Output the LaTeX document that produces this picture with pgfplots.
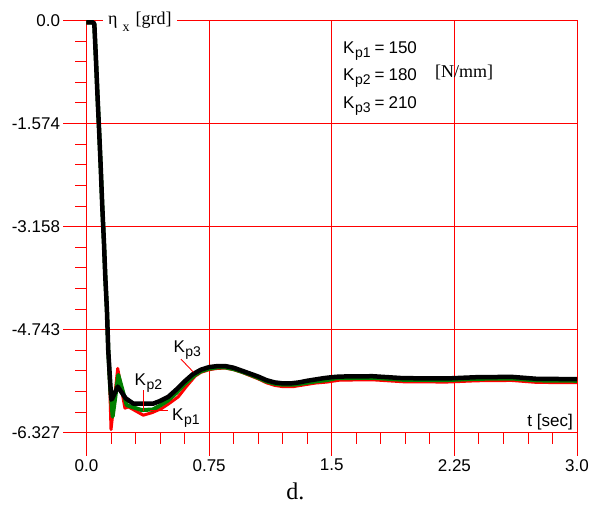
\documentclass[border=0pt]{standalone}
\usepackage{fontspec}
\setmainfont{Liberation Sans}
\newfontfamily\seriffont{Liberation Serif}
\usepackage{pgfplots}
\pgfplotsset{compat=1.18}
\definecolor{kgreen}{RGB}{0,128,0}
\newcommand{\Kp}[1]{K\kern0.5pt\raisebox{-4pt}{\fontsize{14}{14}\selectfont p#1}}
\begin{document}
\begin{tikzpicture}
\useasboundingbox (-86.5pt,-71.3pt) rectangle (508.5pt,432.7pt);
\begin{axis}[
  at={(0pt,0pt)}, anchor=south west,
  scale only axis, width=490.5pt, height=412.2pt,
  xmin=0, xmax=3, ymin=-6.327, ymax=0,
  clip=false,
  axis line style={red, line width=0.9pt},
  xtick={0,0.75,1.5,2.25,3}, xticklabels={0.0,0.75,1.5,2.25,3.0},
  ytick={-6.327,-4.74525,-3.1635,-1.58175,0},
  yticklabels={-6.327,-4.743,-3.158,-1.574,0.0},
  minor x tick num=4, minor y tick num=4,
  tick pos=left,
  grid=major, major grid style={red, line width=0.9pt},
  tick style={red, line width=0.9pt},
  tick align=outside,
  major tick length=23pt, minor tick length=11pt,
  /pgf/number format/assume math mode=true,
  tick label style={font=\fontsize{17}{17}\selectfont, text=black},
]
\addplot[red, line width=3pt, line join=round] coordinates {
(0,-0.03) (0.042,-0.03) (0.048,-0.06) (0.058,-0.607) (0.0685,-1.221) (0.078,-1.732)
(0.0869,-2.245) (0.0966,-2.860) (0.107,-3.422) (0.115,-3.934) (0.125,-4.446) (0.133,-5.06)
(0.142,-5.6) (0.150,-6.28) (0.191,-5.34) (0.235,-5.95) (0.256,-5.93) (0.347,-6.058)
(0.40,-6.02) (0.46,-5.955) (0.51,-5.87) (0.561,-5.777) (0.61,-5.62) (0.664,-5.46)
(0.70,-5.40) (0.75,-5.36) (0.80,-5.34) (0.85,-5.335) (0.90,-5.36) (0.95,-5.40)
(1.00,-5.45) (1.05,-5.50) (1.10,-5.56) (1.15,-5.60) (1.20,-5.62) (1.265,-5.62)
(1.30,-5.605) (1.35,-5.585) (1.40,-5.565) (1.469,-5.55) (1.55,-5.52)
(1.75,-5.515) (1.936,-5.545) (2.2,-5.55) (2.387,-5.53) (2.6,-5.525) (2.754,-5.555) (3.0,-5.56)
};
\addplot[kgreen, line width=4pt, line join=round] coordinates {
(0,-0.03) (0.042,-0.03) (0.048,-0.06) (0.058,-0.607) (0.0685,-1.221) (0.078,-1.732)
(0.0869,-2.245) (0.0966,-2.860) (0.107,-3.422) (0.115,-3.934) (0.125,-4.446) (0.133,-5.06)
(0.145,-5.65) (0.160,-6.08) (0.1945,-5.44) (0.246,-5.905) (0.338,-5.98) (0.407,-5.97)
(0.45,-5.91) (0.50,-5.83) (0.552,-5.71) (0.60,-5.58) (0.664,-5.44) (0.70,-5.385)
(0.75,-5.345) (0.80,-5.325) (0.85,-5.325) (0.90,-5.35) (0.95,-5.39) (1.00,-5.435)
(1.05,-5.485) (1.10,-5.54) (1.15,-5.575) (1.20,-5.59) (1.265,-5.59) (1.30,-5.58)
(1.35,-5.56) (1.40,-5.54) (1.469,-5.52) (1.53,-5.49)
(1.75,-5.485) (1.936,-5.515) (2.2,-5.52) (2.387,-5.50) (2.6,-5.495) (2.754,-5.525) (3.0,-5.53)
};
\addplot[black, line width=4.5pt, line join=round] coordinates {
(0,-0.03) (0.042,-0.03) (0.048,-0.06) (0.058,-0.607) (0.0685,-1.221) (0.078,-1.732)
(0.0869,-2.245) (0.0966,-2.860) (0.107,-3.422) (0.115,-3.934) (0.125,-4.446) (0.133,-5.06)
(0.144,-5.52) (0.152,-5.82) (0.158,-5.80) (0.191,-5.62) (0.24,-5.80) (0.286,-5.88)
(0.409,-5.88) (0.45,-5.84) (0.50,-5.777) (0.552,-5.66) (0.60,-5.54) (0.65,-5.43)
(0.70,-5.36) (0.75,-5.32) (0.80,-5.305) (0.85,-5.305) (0.90,-5.33) (0.95,-5.375)
(1.00,-5.42) (1.05,-5.465) (1.10,-5.52) (1.15,-5.555) (1.20,-5.57) (1.25,-5.57)
(1.30,-5.555) (1.35,-5.53) (1.40,-5.51) (1.45,-5.49) (1.50,-5.475) (1.55,-5.465)
(1.75,-5.46) (1.936,-5.49) (2.2,-5.495)
(2.387,-5.475) (2.6,-5.47) (2.754,-5.50) (3.0,-5.505)
};
% leader lines
\draw[red, line width=0.9pt] (axis cs:0.578,-5.198) -- (axis cs:0.654,-5.398);
\draw[red, line width=0.9pt] (axis cs:0.3456,-5.674) -- (axis cs:0.3456,-5.997);
\draw[red, line width=0.9pt] (axis cs:0.388,-5.989) -- (axis cs:0.498,-5.989);
% curve labels
\node[anchor=base west, inner sep=0pt, font=\fontsize{17}{17}\selectfont] at (axis cs:0.531,-5.091) {\Kp{3}};
\node[anchor=base west, inner sep=0pt, font=\fontsize{17}{17}\selectfont] at (axis cs:0.2936,-5.598) {\Kp{2}};
\node[anchor=base west, inner sep=0pt, font=\fontsize{17}{17}\selectfont] at (axis cs:0.523,-6.135) {\Kp{1}};
% parameter block
\node[anchor=base west, inner sep=0pt, font=\fontsize{17}{17}\selectfont] at (axis cs:1.569,-0.504) {\Kp{1}\kern4pt=\kern4pt150};
\node[anchor=base west, inner sep=0pt, font=\fontsize{17}{17}\selectfont] at (axis cs:1.569,-0.914) {\Kp{2}\kern4pt=\kern4pt180};
\node[anchor=base west, inner sep=0pt, font=\fontsize{17}{17}\selectfont] at (axis cs:1.569,-1.348) {\Kp{3}\kern4pt=\kern4pt210};
\node[anchor=base west, inner sep=0pt, font=\seriffont\fontsize{18}{18}\selectfont] at (axis cs:2.131,-0.875) {[N/mm]};
% axis titles
\node[anchor=base west, fill=white, inner xsep=5pt, inner ysep=2pt, font=\seriffont\fontsize{18}{18}\selectfont] at (axis cs:0.1009,-0.069) {η\kern5pt\raisebox{-7pt}{\fontsize{14}{14}\selectfont x}\kern6pt[grd]};
\node[anchor=base east, inner sep=0pt, font=\fontsize{17}{17}\selectfont] at (axis cs:2.9755,-6.235) {t [sec]};
\node[anchor=base, inner sep=0pt, font=\seriffont\fontsize{24}{24}\selectfont] at (axis cs:1.278,-7.348) {d.};
\end{axis}
\end{tikzpicture}
\end{document}
